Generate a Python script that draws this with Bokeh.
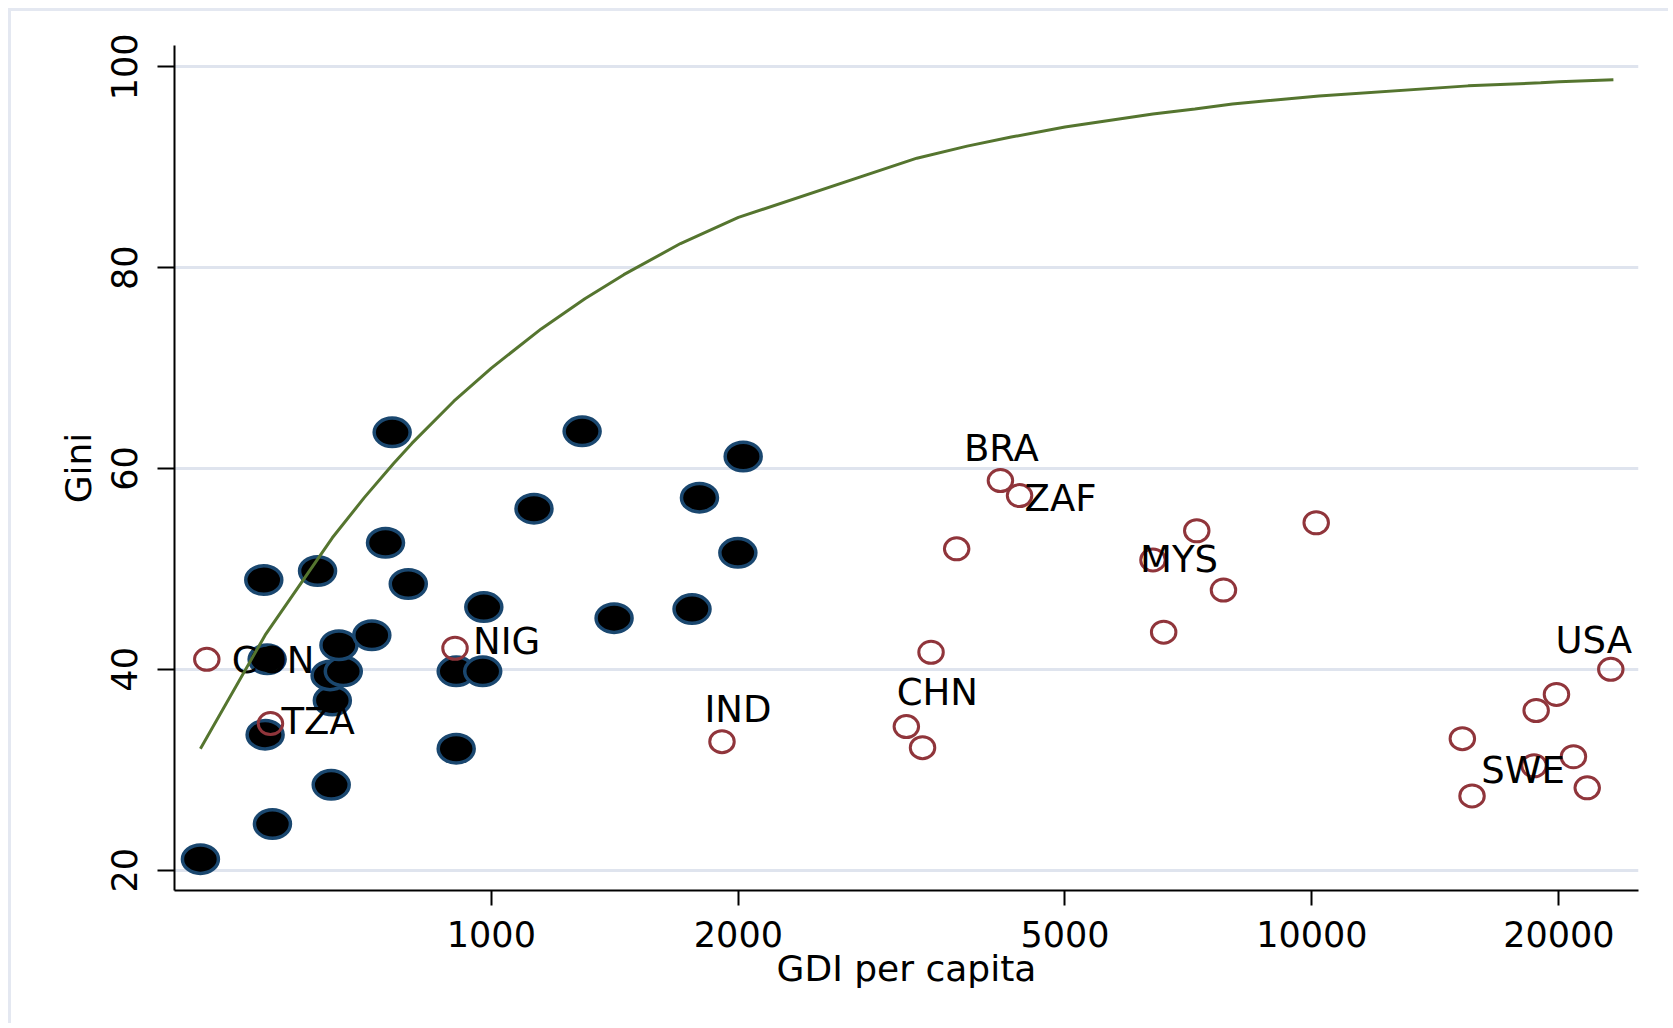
from bokeh.plotting import figure
from bokeh.models import ColumnDataSource, Range1d, FixedTicker, PrintfTickFormatter
from bokeh.embed import file_html
from bokeh.resources import INLINE
from bokeh.core.properties import value

# ---------------- data ----------------
# filled black markers
pre_gdi = [442, 541, 638, 530, 640, 533, 636, 660, 652, 715, 528, 614, 743, 792,
           757, 979, 906, 976, 906, 1127, 1290, 1411, 1793, 1756, 2027, 1997]
pre_gini = [21.1, 24.6, 28.5, 33.5, 36.9, 41.0, 39.4, 39.8, 42.4, 43.4, 48.9, 49.8, 52.6, 48.5,
            63.6, 46.2, 39.8, 39.8, 32.1, 56.0, 63.7, 45.1, 57.1, 46.0, 61.2, 51.6]

# hollow red markers
mod_gdi = [450, 538, 903, 1910, 3204, 3353, 3434, 3690, 4172, 4402, 6401, 7238, 7801, 6596,
           10120, 23130, 19860, 18760, 15250, 15670, 18650, 20830, 21650]
mod_gini = [41.0, 34.6, 42.1, 32.8, 34.3, 32.2, 41.7, 52.0, 58.8, 57.3, 50.9, 53.8, 47.9, 43.7,
            54.6, 40.0, 37.5, 35.9, 33.1, 27.4, 30.4, 31.3, 28.2]
mod_code = ["CON", "TZA", "NIG", "IND", "CHN", "", "", "", "BRA", "ZAF", "MYS", "", "", "",
            "", "USA", "", "", "", "", "SWE", "", ""]

# green frontier curve
ipf_gdi = [442, 530, 640, 700, 760, 800, 900, 1000, 1150, 1300, 1450, 1700, 2000,
           3300, 3800, 4300, 5000, 6400, 7200, 8000, 10200, 15500, 19000, 20000, 23300]
ipf_gini = [32.1, 43.4, 53.1, 57.1, 60.5, 62.5, 66.7, 70.0, 73.9, 76.9, 79.3, 82.4, 85.0,
            90.9, 92.1, 93.0, 94.0, 95.3, 95.8, 96.3, 97.1, 98.1, 98.4, 98.5, 98.7]

x_ticks = [1000, 2000, 5000, 10000, 20000]
y_ticks = [20, 40, 60, 80, 100]
x_title = "GDI per capita"
y_title = "Gini"

# ---------------- styles ----------------
FONT = "DejaVu Sans"
TICK_FS = "35px"
TITLE_FS = "36px"
LABEL_FS = "37px"
NAVY = "#1a476f"
MAROON = "#90353b"
GREEN = "#55752f"
GRID = "#dfe4ee"

# label placement: (align, x offset px, y offset px)
LABEL_STYLE = {
    "CON": ("left", 25, 1),
    "TZA": ("left", 11, -2),
    "NIG": ("left", 18, -7),
    "IND": ("center", 16, -32),
    "CHN": ("center", 31, -34),
    "BRA": ("center", 1, -32),
    "ZAF": ("left", 5, 3),
    "MYS": ("left", -13, 0),
    "USA": ("center", -17, -29),
    "SWE": ("center", -11, 5),
}

p = figure(width=1660, height=1015, x_axis_type="log",
           x_range=Range1d(411, 25000), y_range=Range1d(17.98, 102.12),
           output_backend="svg", toolbar_location=None, title=None,
           min_border_left=163, min_border_right=33, min_border_top=34, min_border_bottom=136)
p.margin = (8, 0, 0, 8)
p.styles = {"border-left": "3px solid #e4e8f1", "border-top": "3px solid #e4e8f1"}
p.outline_line_color = None
p.background_fill_color = "white"
p.border_fill_color = "white"

# axes
for ax in (p.xaxis[0], p.yaxis[0]):
    ax.axis_line_color = "black"
    ax.axis_line_width = 2
    ax.major_tick_line_color = "black"
    ax.major_tick_line_width = 2
    ax.major_tick_in = 0
    ax.minor_tick_line_color = None
    ax.major_label_text_font = FONT
    ax.major_label_text_font_size = TICK_FS
    ax.major_label_text_color = "black"
    ax.axis_label_text_font = FONT
    ax.axis_label_text_font_size = TITLE_FS
    ax.axis_label_text_font_style = "normal"
    ax.axis_label_text_color = "black"

p.xaxis.ticker = FixedTicker(ticks=x_ticks, minor_ticks=[])
p.xaxis.formatter = PrintfTickFormatter(format="%d")
p.xaxis.major_tick_out = 15
p.xaxis.major_label_standoff = 15
p.xaxis.axis_label = x_title
p.xaxis.axis_label_standoff = -2

p.yaxis.ticker = FixedTicker(ticks=y_ticks, minor_ticks=[])
p.yaxis.major_tick_out = 17
p.yaxis.major_label_standoff = 20
p.yaxis.major_label_orientation = "vertical"
p.yaxis.axis_label = y_title
p.yaxis.axis_label_standoff = 10

p.xgrid.visible = False
p.ygrid.ticker = FixedTicker(ticks=y_ticks, minor_ticks=[])
p.ygrid.grid_line_color = GRID
p.ygrid.grid_line_width = 3

# markers
pre_src = ColumnDataSource(dict(x=pre_gdi, y=pre_gini))
p.ellipse(x="x", y="y", width=36, height=28.5, width_units="screen", height_units="screen",
          fill_color="black", line_color=NAVY, line_width=3.5, source=pre_src)

mod_src = ColumnDataSource(dict(x=mod_gdi, y=mod_gini))
p.ellipse(x="x", y="y", width=24.5, height=22, width_units="screen", height_units="screen",
          fill_color=None, line_color=MAROON, line_width=3, source=mod_src)

# labels
for align in ("left", "center"):
    xs, ys, ts, dxs, dys = [], [], [], [], []
    for gx, gy, code in zip(mod_gdi, mod_gini, mod_code):
        if code and LABEL_STYLE[code][0] == align:
            xs.append(gx); ys.append(gy); ts.append(code)
            dxs.append(LABEL_STYLE[code][1]); dys.append(LABEL_STYLE[code][2])
    src = ColumnDataSource(dict(x=xs, y=ys, t=ts, dx=dxs, dy=dys))
    p.text(x="x", y="y", text="t", x_offset="dx", y_offset="dy", source=src,
           text_font=value(FONT), text_font_size=LABEL_FS, text_color="black",
           text_align=align, text_baseline="middle")

# frontier curve
p.line(ipf_gdi, ipf_gini, line_color=GREEN, line_width=3)

open("out.html", "w").write(file_html(p, INLINE))
